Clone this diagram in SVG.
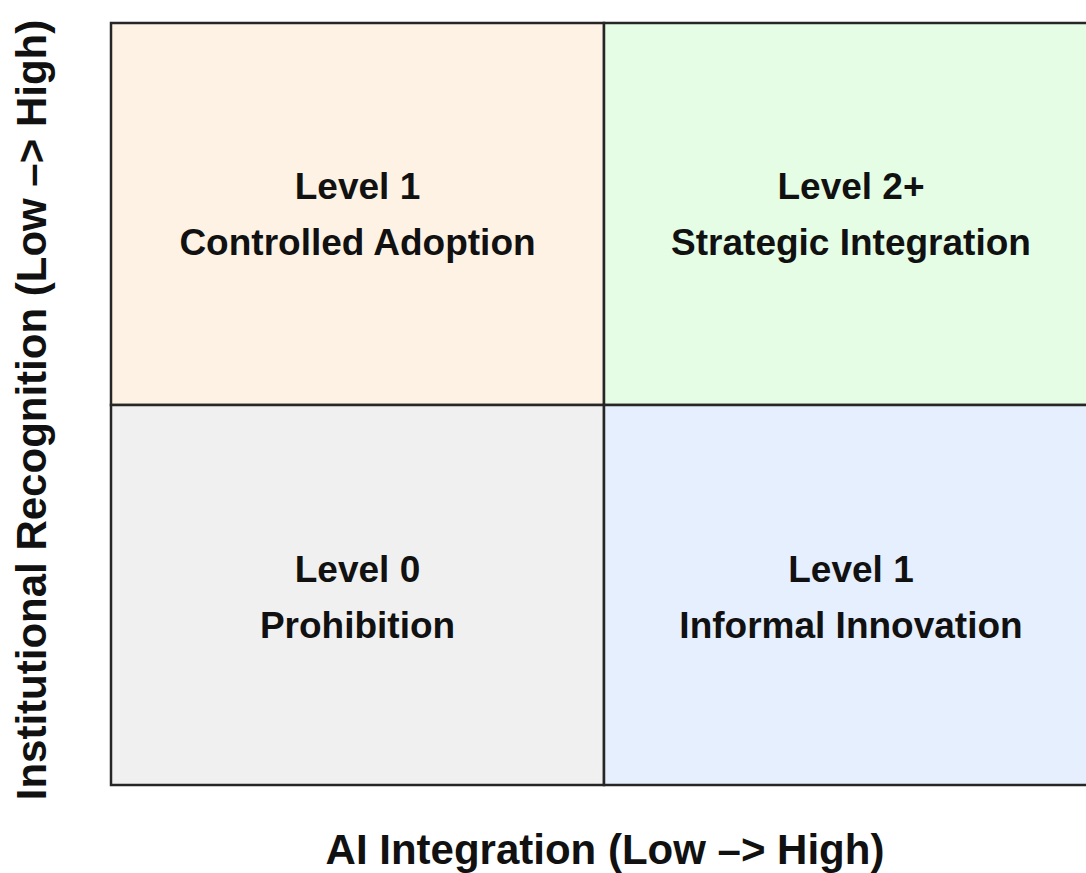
<svg xmlns="http://www.w3.org/2000/svg" width="1086" height="873" viewBox="0 0 1086 873">
<style>
.q{stroke:#262626;stroke-width:2.5}
.t{font-family:"Liberation Sans",Arial,sans-serif;font-weight:bold;font-size:37px;fill:#111;text-anchor:middle}
.ax{font-family:"Liberation Sans",Arial,sans-serif;font-weight:bold;font-size:42px;fill:#111;text-anchor:middle}
</style>
<rect width="1086" height="873" fill="#ffffff"/>
<g id="q-controlled">
<rect class="q" x="111" y="23" width="493" height="382" fill="#fdf2e4"/>
<text class="t" x="357.5" y="199">Level 1</text>
<text class="t" x="357.5" y="255">Controlled Adoption</text>
</g>
<g id="q-strategic">
<rect class="q" x="604" y="23" width="494" height="382" fill="#e5fde4"/>
<text class="t" x="851" y="199">Level 2+</text>
<text class="t" x="851" y="255">Strategic Integration</text>
</g>
<g id="q-prohibition">
<rect class="q" x="111" y="405" width="493" height="380" fill="#f0f0f0"/>
<text class="t" x="357.5" y="582">Level 0</text>
<text class="t" x="357.5" y="638">Prohibition</text>
</g>
<g id="q-informal">
<rect class="q" x="604" y="405" width="494" height="380" fill="#e5effd"/>
<text class="t" x="851" y="582">Level 1</text>
<text class="t" x="851" y="638">Informal Innovation</text>
</g>
<g id="axes">
<text class="ax" x="605" y="864">AI Integration (Low –&gt; High)</text>
<text class="ax" transform="translate(46,410) rotate(-90)" x="0" y="0">Institutional Recognition (Low –&gt; High)</text>
</g>
</svg>
